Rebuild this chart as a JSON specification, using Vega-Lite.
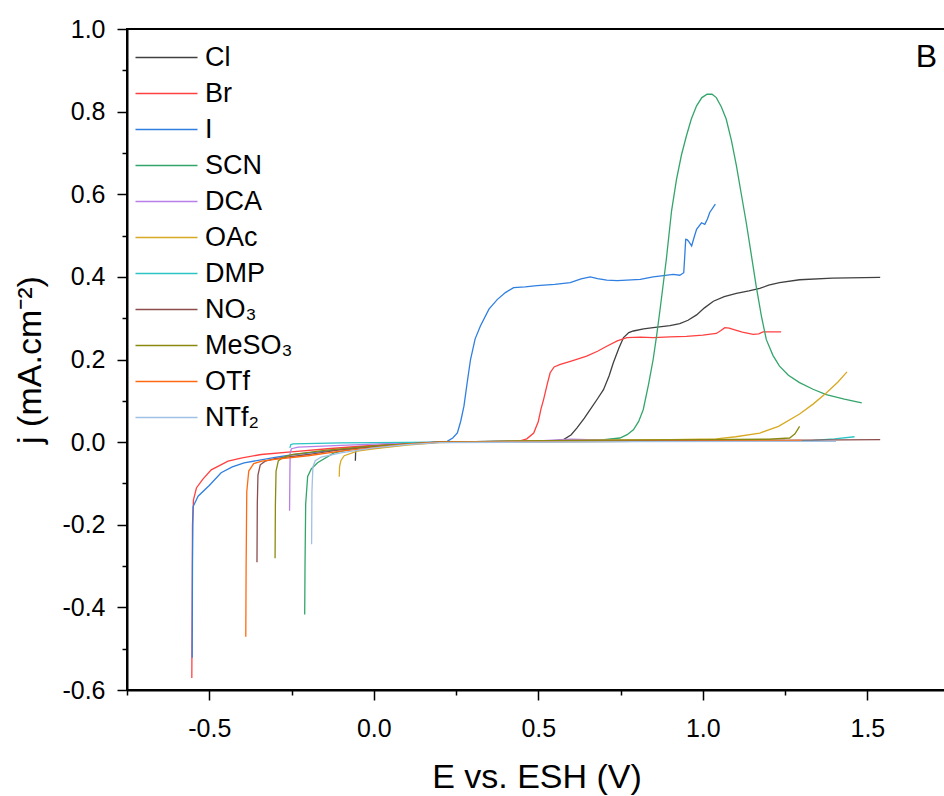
{
  "$schema": "https://vega.github.io/schema/vega-lite/v6.json",
  "autosize": "none",
  "width": 819,
  "height": 661,
  "padding": {"left": 127, "top": 29, "right": -2, "bottom": 106},
  "background": "white",
  "config": {
    "font": "Liberation Sans",
    "view": {"stroke": "black", "strokeWidth": 2},
    "axis": {"grid": false, "domainColor": "black", "domainWidth": 2, "tickColor": "black", "tickWidth": 1.5, "labelColor": "black", "titleColor": "black", "labelFont": "Liberation Sans", "titleFont": "Liberation Sans", "labelFontSize": 25, "titleFontSize": 34, "titleFontWeight": "normal"}
  },
  "title": {"text": "B", "orient": "top", "anchor": "end", "offset": -57, "dx": -9, "fontSize": 32, "fontWeight": "normal", "font": "Liberation Sans", "color": "black"},
  "data": {"values": [
    {"s":"Cl","x":-0.056,"y":-0.045},{"s":"Cl","x":-0.055,"y":-0.02},{"s":"Cl","x":-0.05,"y":-0.013},{"s":"Cl","x":0.0,"y":-0.009},{"s":"Cl","x":0.1,"y":-0.004},{"s":"Cl","x":0.2,"y":0.0},{"s":"Cl","x":0.4,"y":0.002},{"s":"Cl","x":0.55,"y":0.003},{"s":"Cl","x":0.577,"y":0.006},{"s":"Cl","x":0.6,"y":0.018},{"s":"Cl","x":0.617,"y":0.034},{"s":"Cl","x":0.64,"y":0.058},{"s":"Cl","x":0.658,"y":0.079},{"s":"Cl","x":0.68,"y":0.105},{"s":"Cl","x":0.698,"y":0.127},{"s":"Cl","x":0.715,"y":0.16},{"s":"Cl","x":0.728,"y":0.192},{"s":"Cl","x":0.745,"y":0.228},{"s":"Cl","x":0.759,"y":0.253},{"s":"Cl","x":0.775,"y":0.265},{"s":"Cl","x":0.789,"y":0.269},{"s":"Cl","x":0.82,"y":0.274},{"s":"Cl","x":0.849,"y":0.277},{"s":"Cl","x":0.9,"y":0.282},{"s":"Cl","x":0.93,"y":0.287},{"s":"Cl","x":0.955,"y":0.295},{"s":"Cl","x":0.981,"y":0.308},{"s":"Cl","x":1.005,"y":0.325},{"s":"Cl","x":1.032,"y":0.341},{"s":"Cl","x":1.065,"y":0.352},{"s":"Cl","x":1.102,"y":0.36},{"s":"Cl","x":1.14,"y":0.366},{"s":"Cl","x":1.173,"y":0.372},{"s":"Cl","x":1.2,"y":0.38},{"s":"Cl","x":1.233,"y":0.386},{"s":"Cl","x":1.294,"y":0.393},{"s":"Cl","x":1.394,"y":0.397},{"s":"Cl","x":1.539,"y":0.399},

    {"s":"Br","x":-0.553,"y":-0.571},{"s":"Br","x":-0.552,"y":-0.4},{"s":"Br","x":-0.551,"y":-0.2},{"s":"Br","x":-0.548,"y":-0.14},{"s":"Br","x":-0.539,"y":-0.111},{"s":"Br","x":-0.52,"y":-0.09},{"s":"Br","x":-0.494,"y":-0.067},{"s":"Br","x":-0.443,"y":-0.046},{"s":"Br","x":-0.4,"y":-0.038},{"s":"Br","x":-0.342,"y":-0.03},{"s":"Br","x":-0.242,"y":-0.023},{"s":"Br","x":-0.14,"y":-0.016},{"s":"Br","x":-0.04,"y":-0.01},{"s":"Br","x":0.1,"y":-0.003},{"s":"Br","x":0.2,"y":0.0},{"s":"Br","x":0.35,"y":0.001},{"s":"Br","x":0.43,"y":0.002},{"s":"Br","x":0.445,"y":0.003},{"s":"Br","x":0.465,"y":0.008},{"s":"Br","x":0.486,"y":0.022},{"s":"Br","x":0.5,"y":0.05},{"s":"Br","x":0.508,"y":0.08},{"s":"Br","x":0.516,"y":0.103},{"s":"Br","x":0.527,"y":0.14},{"s":"Br","x":0.536,"y":0.168},{"s":"Br","x":0.548,"y":0.182},{"s":"Br","x":0.567,"y":0.188},{"s":"Br","x":0.6,"y":0.196},{"s":"Br","x":0.647,"y":0.208},{"s":"Br","x":0.68,"y":0.22},{"s":"Br","x":0.708,"y":0.232},{"s":"Br","x":0.74,"y":0.245},{"s":"Br","x":0.769,"y":0.253},{"s":"Br","x":0.81,"y":0.254},{"s":"Br","x":0.849,"y":0.253},{"s":"Br","x":0.9,"y":0.255},{"s":"Br","x":0.95,"y":0.256},{"s":"Br","x":1.0,"y":0.259},{"s":"Br","x":1.041,"y":0.263},{"s":"Br","x":1.055,"y":0.27},{"s":"Br","x":1.067,"y":0.277},{"s":"Br","x":1.08,"y":0.276},{"s":"Br","x":1.092,"y":0.273},{"s":"Br","x":1.12,"y":0.266},{"s":"Br","x":1.153,"y":0.261},{"s":"Br","x":1.17,"y":0.262},{"s":"Br","x":1.183,"y":0.267},{"s":"Br","x":1.238,"y":0.267},

    {"s":"I","x":-0.552,"y":-0.522},{"s":"I","x":-0.551,"y":-0.3},{"s":"I","x":-0.55,"y":-0.2},{"s":"I","x":-0.549,"y":-0.156},{"s":"I","x":-0.534,"y":-0.131},{"s":"I","x":-0.5,"y":-0.105},{"s":"I","x":-0.464,"y":-0.074},{"s":"I","x":-0.43,"y":-0.06},{"s":"I","x":-0.394,"y":-0.05},{"s":"I","x":-0.3,"y":-0.037},{"s":"I","x":-0.242,"y":-0.03},{"s":"I","x":-0.14,"y":-0.021},{"s":"I","x":-0.04,"y":-0.013},{"s":"I","x":0.1,"y":-0.004},{"s":"I","x":0.2,"y":0.0},{"s":"I","x":0.223,"y":0.002},{"s":"I","x":0.24,"y":0.01},{"s":"I","x":0.254,"y":0.022},{"s":"I","x":0.264,"y":0.05},{"s":"I","x":0.274,"y":0.087},{"s":"I","x":0.284,"y":0.145},{"s":"I","x":0.294,"y":0.2},{"s":"I","x":0.308,"y":0.25},{"s":"I","x":0.324,"y":0.281},{"s":"I","x":0.35,"y":0.322},{"s":"I","x":0.375,"y":0.345},{"s":"I","x":0.4,"y":0.362},{"s":"I","x":0.425,"y":0.374},{"s":"I","x":0.46,"y":0.376},{"s":"I","x":0.496,"y":0.379},{"s":"I","x":0.55,"y":0.382},{"s":"I","x":0.597,"y":0.386},{"s":"I","x":0.63,"y":0.395},{"s":"I","x":0.658,"y":0.4},{"s":"I","x":0.68,"y":0.396},{"s":"I","x":0.708,"y":0.392},{"s":"I","x":0.74,"y":0.391},{"s":"I","x":0.769,"y":0.392},{"s":"I","x":0.81,"y":0.394},{"s":"I","x":0.849,"y":0.4},{"s":"I","x":0.88,"y":0.403},{"s":"I","x":0.91,"y":0.406},{"s":"I","x":0.93,"y":0.404},{"s":"I","x":0.942,"y":0.41},{"s":"I","x":0.945,"y":0.45},{"s":"I","x":0.948,"y":0.491},{"s":"I","x":0.952,"y":0.49},{"s":"I","x":0.956,"y":0.487},{"s":"I","x":0.966,"y":0.475},{"s":"I","x":0.974,"y":0.497},{"s":"I","x":0.981,"y":0.515},{"s":"I","x":0.996,"y":0.531},{"s":"I","x":1.006,"y":0.527},{"s":"I","x":1.014,"y":0.54},{"s":"I","x":1.021,"y":0.556},{"s":"I","x":1.038,"y":0.576},

    {"s":"SCN","x":-0.21,"y":-0.417},{"s":"SCN","x":-0.209,"y":-0.3},{"s":"SCN","x":-0.207,"y":-0.15},{"s":"SCN","x":-0.201,"y":-0.083},{"s":"SCN","x":-0.19,"y":-0.065},{"s":"SCN","x":-0.171,"y":-0.05},{"s":"SCN","x":-0.121,"y":-0.026},{"s":"SCN","x":-0.05,"y":-0.014},{"s":"SCN","x":0.1,"y":-0.003},{"s":"SCN","x":0.2,"y":0.0},{"s":"SCN","x":0.5,"y":0.003},{"s":"SCN","x":0.7,"y":0.006},{"s":"SCN","x":0.748,"y":0.01},{"s":"SCN","x":0.77,"y":0.018},{"s":"SCN","x":0.789,"y":0.03},{"s":"SCN","x":0.805,"y":0.05},{"s":"SCN","x":0.819,"y":0.079},{"s":"SCN","x":0.835,"y":0.14},{"s":"SCN","x":0.849,"y":0.2},{"s":"SCN","x":0.86,"y":0.26},{"s":"SCN","x":0.87,"y":0.321},{"s":"SCN","x":0.889,"y":0.442},{"s":"SCN","x":0.905,"y":0.56},{"s":"SCN","x":0.92,"y":0.636},{"s":"SCN","x":0.935,"y":0.695},{"s":"SCN","x":0.95,"y":0.741},{"s":"SCN","x":0.965,"y":0.782},{"s":"SCN","x":0.981,"y":0.814},{"s":"SCN","x":0.997,"y":0.834},{"s":"SCN","x":1.013,"y":0.842},{"s":"SCN","x":1.028,"y":0.842},{"s":"SCN","x":1.041,"y":0.834},{"s":"SCN","x":1.056,"y":0.812},{"s":"SCN","x":1.071,"y":0.782},{"s":"SCN","x":1.087,"y":0.73},{"s":"SCN","x":1.102,"y":0.669},{"s":"SCN","x":1.117,"y":0.6},{"s":"SCN","x":1.132,"y":0.531},{"s":"SCN","x":1.147,"y":0.455},{"s":"SCN","x":1.162,"y":0.378},{"s":"SCN","x":1.178,"y":0.305},{"s":"SCN","x":1.193,"y":0.248},{"s":"SCN","x":1.213,"y":0.21},{"s":"SCN","x":1.233,"y":0.184},{"s":"SCN","x":1.26,"y":0.162},{"s":"SCN","x":1.294,"y":0.144},{"s":"SCN","x":1.335,"y":0.128},{"s":"SCN","x":1.375,"y":0.115},{"s":"SCN","x":1.43,"y":0.104},{"s":"SCN","x":1.483,"y":0.095},

    {"s":"DCA","x":-0.256,"y":-0.166},{"s":"DCA","x":-0.255,"y":-0.08},{"s":"DCA","x":-0.254,"y":-0.025},{"s":"DCA","x":-0.25,"y":-0.016},{"s":"DCA","x":-0.23,"y":-0.012},{"s":"DCA","x":-0.1,"y":-0.008},{"s":"DCA","x":0.1,"y":-0.002},{"s":"DCA","x":0.2,"y":0.0},{"s":"DCA","x":0.5,"y":0.003},{"s":"DCA","x":0.6,"y":0.007},{"s":"DCA","x":0.7,"y":0.005},{"s":"DCA","x":1.0,"y":0.004},{"s":"DCA","x":1.25,"y":0.004},

    {"s":"OAc","x":-0.105,"y":-0.084},{"s":"OAc","x":-0.104,"y":-0.06},{"s":"OAc","x":-0.1,"y":-0.045},{"s":"OAc","x":-0.09,"y":-0.033},{"s":"OAc","x":-0.05,"y":-0.022},{"s":"OAc","x":0.0,"y":-0.016},{"s":"OAc","x":0.1,"y":-0.007},{"s":"OAc","x":0.2,"y":-0.001},{"s":"OAc","x":0.4,"y":0.002},{"s":"OAc","x":0.7,"y":0.005},{"s":"OAc","x":0.9,"y":0.006},{"s":"OAc","x":1.041,"y":0.008},{"s":"OAc","x":1.1,"y":0.013},{"s":"OAc","x":1.173,"y":0.022},{"s":"OAc","x":1.23,"y":0.038},{"s":"OAc","x":1.294,"y":0.068},{"s":"OAc","x":1.335,"y":0.092},{"s":"OAc","x":1.375,"y":0.119},{"s":"OAc","x":1.41,"y":0.145},{"s":"OAc","x":1.438,"y":0.17},

    {"s":"DMP","x":-0.255,"y":-0.014},{"s":"DMP","x":-0.252,"y":-0.006},{"s":"DMP","x":-0.245,"y":-0.004},{"s":"DMP","x":-0.1,"y":-0.002},{"s":"DMP","x":0.2,"y":0.0},{"s":"DMP","x":0.8,"y":0.002},{"s":"DMP","x":1.2,"y":0.003},{"s":"DMP","x":1.335,"y":0.004},{"s":"DMP","x":1.4,"y":0.008},{"s":"DMP","x":1.461,"y":0.013},

    {"s":"NO3","x":-0.355,"y":-0.291},{"s":"NO3","x":-0.354,"y":-0.15},{"s":"NO3","x":-0.352,"y":-0.08},{"s":"NO3","x":-0.345,"y":-0.055},{"s":"NO3","x":-0.33,"y":-0.046},{"s":"NO3","x":-0.3,"y":-0.04},{"s":"NO3","x":-0.2,"y":-0.03},{"s":"NO3","x":-0.1,"y":-0.018},{"s":"NO3","x":0.1,"y":-0.004},{"s":"NO3","x":0.2,"y":0.0},{"s":"NO3","x":0.8,"y":0.003},{"s":"NO3","x":1.2,"y":0.004},{"s":"NO3","x":1.539,"y":0.006},

    {"s":"MeSO3","x":-0.3,"y":-0.281},{"s":"MeSO3","x":-0.299,"y":-0.15},{"s":"MeSO3","x":-0.297,"y":-0.07},{"s":"MeSO3","x":-0.29,"y":-0.045},{"s":"MeSO3","x":-0.275,"y":-0.037},{"s":"MeSO3","x":-0.25,"y":-0.03},{"s":"MeSO3","x":-0.15,"y":-0.02},{"s":"MeSO3","x":0.0,"y":-0.009},{"s":"MeSO3","x":0.2,"y":0.0},{"s":"MeSO3","x":0.6,"y":0.004},{"s":"MeSO3","x":1.0,"y":0.006},{"s":"MeSO3","x":1.2,"y":0.007},{"s":"MeSO3","x":1.264,"y":0.01},{"s":"MeSO3","x":1.28,"y":0.02},{"s":"MeSO3","x":1.294,"y":0.038},

    {"s":"OTf","x":-0.389,"y":-0.471},{"s":"OTf","x":-0.388,"y":-0.3},{"s":"OTf","x":-0.386,"y":-0.12},{"s":"OTf","x":-0.38,"y":-0.07},{"s":"OTf","x":-0.365,"y":-0.052},{"s":"OTf","x":-0.34,"y":-0.046},{"s":"OTf","x":-0.3,"y":-0.042},{"s":"OTf","x":-0.2,"y":-0.033},{"s":"OTf","x":-0.1,"y":-0.022},{"s":"OTf","x":0.1,"y":-0.005},{"s":"OTf","x":0.2,"y":0.0},{"s":"OTf","x":0.8,"y":0.002},{"s":"OTf","x":1.3,"y":0.004},

    {"s":"NTf2","x":-0.189,"y":-0.247},{"s":"NTf2","x":-0.188,"y":-0.12},{"s":"NTf2","x":-0.185,"y":-0.06},{"s":"NTf2","x":-0.178,"y":-0.045},{"s":"NTf2","x":-0.16,"y":-0.036},{"s":"NTf2","x":-0.1,"y":-0.026},{"s":"NTf2","x":0.0,"y":-0.014},{"s":"NTf2","x":0.1,"y":-0.006},{"s":"NTf2","x":0.2,"y":-0.001},{"s":"NTf2","x":0.8,"y":0.001},{"s":"NTf2","x":1.405,"y":0.002}
  ]},
  "mark": {"type": "line", "strokeWidth": 1.3, "clip": true},
  "encoding": {
    "x": {"field": "x", "type": "quantitative",
      "scale": {"domain": [-0.75, 1.739], "nice": false, "zero": false},
      "axis": {"title": "E vs. ESH (V)", "values": [-0.75,-0.5,-0.25,0,0.25,0.5,0.75,1,1.25,1.5],
        "labelExpr": "abs(datum.value*2-round(datum.value*2))<0.001 ? replace(format(datum.value,'.1f'),'−','-') : ''",
        "tickSize": {"condition": {"test": "abs(datum.value*2-round(datum.value*2))<0.001", "value": 10}, "value": 5},
        "labelPadding": 16, "titlePadding": 19, "labelFlush": false, "labelOverlap": false}},
    "y": {"field": "y", "type": "quantitative",
      "scale": {"domain": [-0.6, 1.0], "nice": false, "zero": false},
      "axis": {"title": "j (mA.cm⁻²)", "values": [-0.6,-0.5,-0.4,-0.3,-0.2,-0.1,0,0.1,0.2,0.3,0.4,0.5,0.6,0.7,0.8,0.9,1.0],
        "labelExpr": "abs(datum.value*5-round(datum.value*5))<0.001 ? replace(format(datum.value,'.1f'),'−','-') : ''",
        "tickSize": {"condition": {"test": "abs(datum.value*5-round(datum.value*5))<0.001", "value": 10}, "value": 5},
        "labelPadding": 12, "titlePadding": 14, "labelFlush": false, "labelOverlap": false}},
    "color": {"field": "s", "type": "nominal",
      "scale": {"domain": ["Cl","Br","I","SCN","DCA","OAc","DMP","NO3","MeSO3","OTf","NTf2"],
        "range": ["#404040","#ff4040","#2f7fe0","#34a56a","#b87fe8","#d8a923","#2cc4c4","#8c4c4c","#8a8a10","#ff6a10","#a0c0e4"]},
      "legend": {"title": null, "orient": "none", "legendX": 23, "legendY": 12,
        "symbolType": "M-2,0H2", "symbolSize": 961, "symbolStrokeWidth": 1.3,
        "labelFontSize": 27, "labelFont": "Liberation Sans", "labelColor": "black", "labelOffset": 22, "rowPadding": 6, "padding": 0,
        "labelExpr": "datum.label == 'NO3' ? 'NO₃' : datum.label == 'MeSO3' ? 'MeSO₃' : datum.label == 'NTf2' ? 'NTf₂' : datum.label"}}
  }
}
